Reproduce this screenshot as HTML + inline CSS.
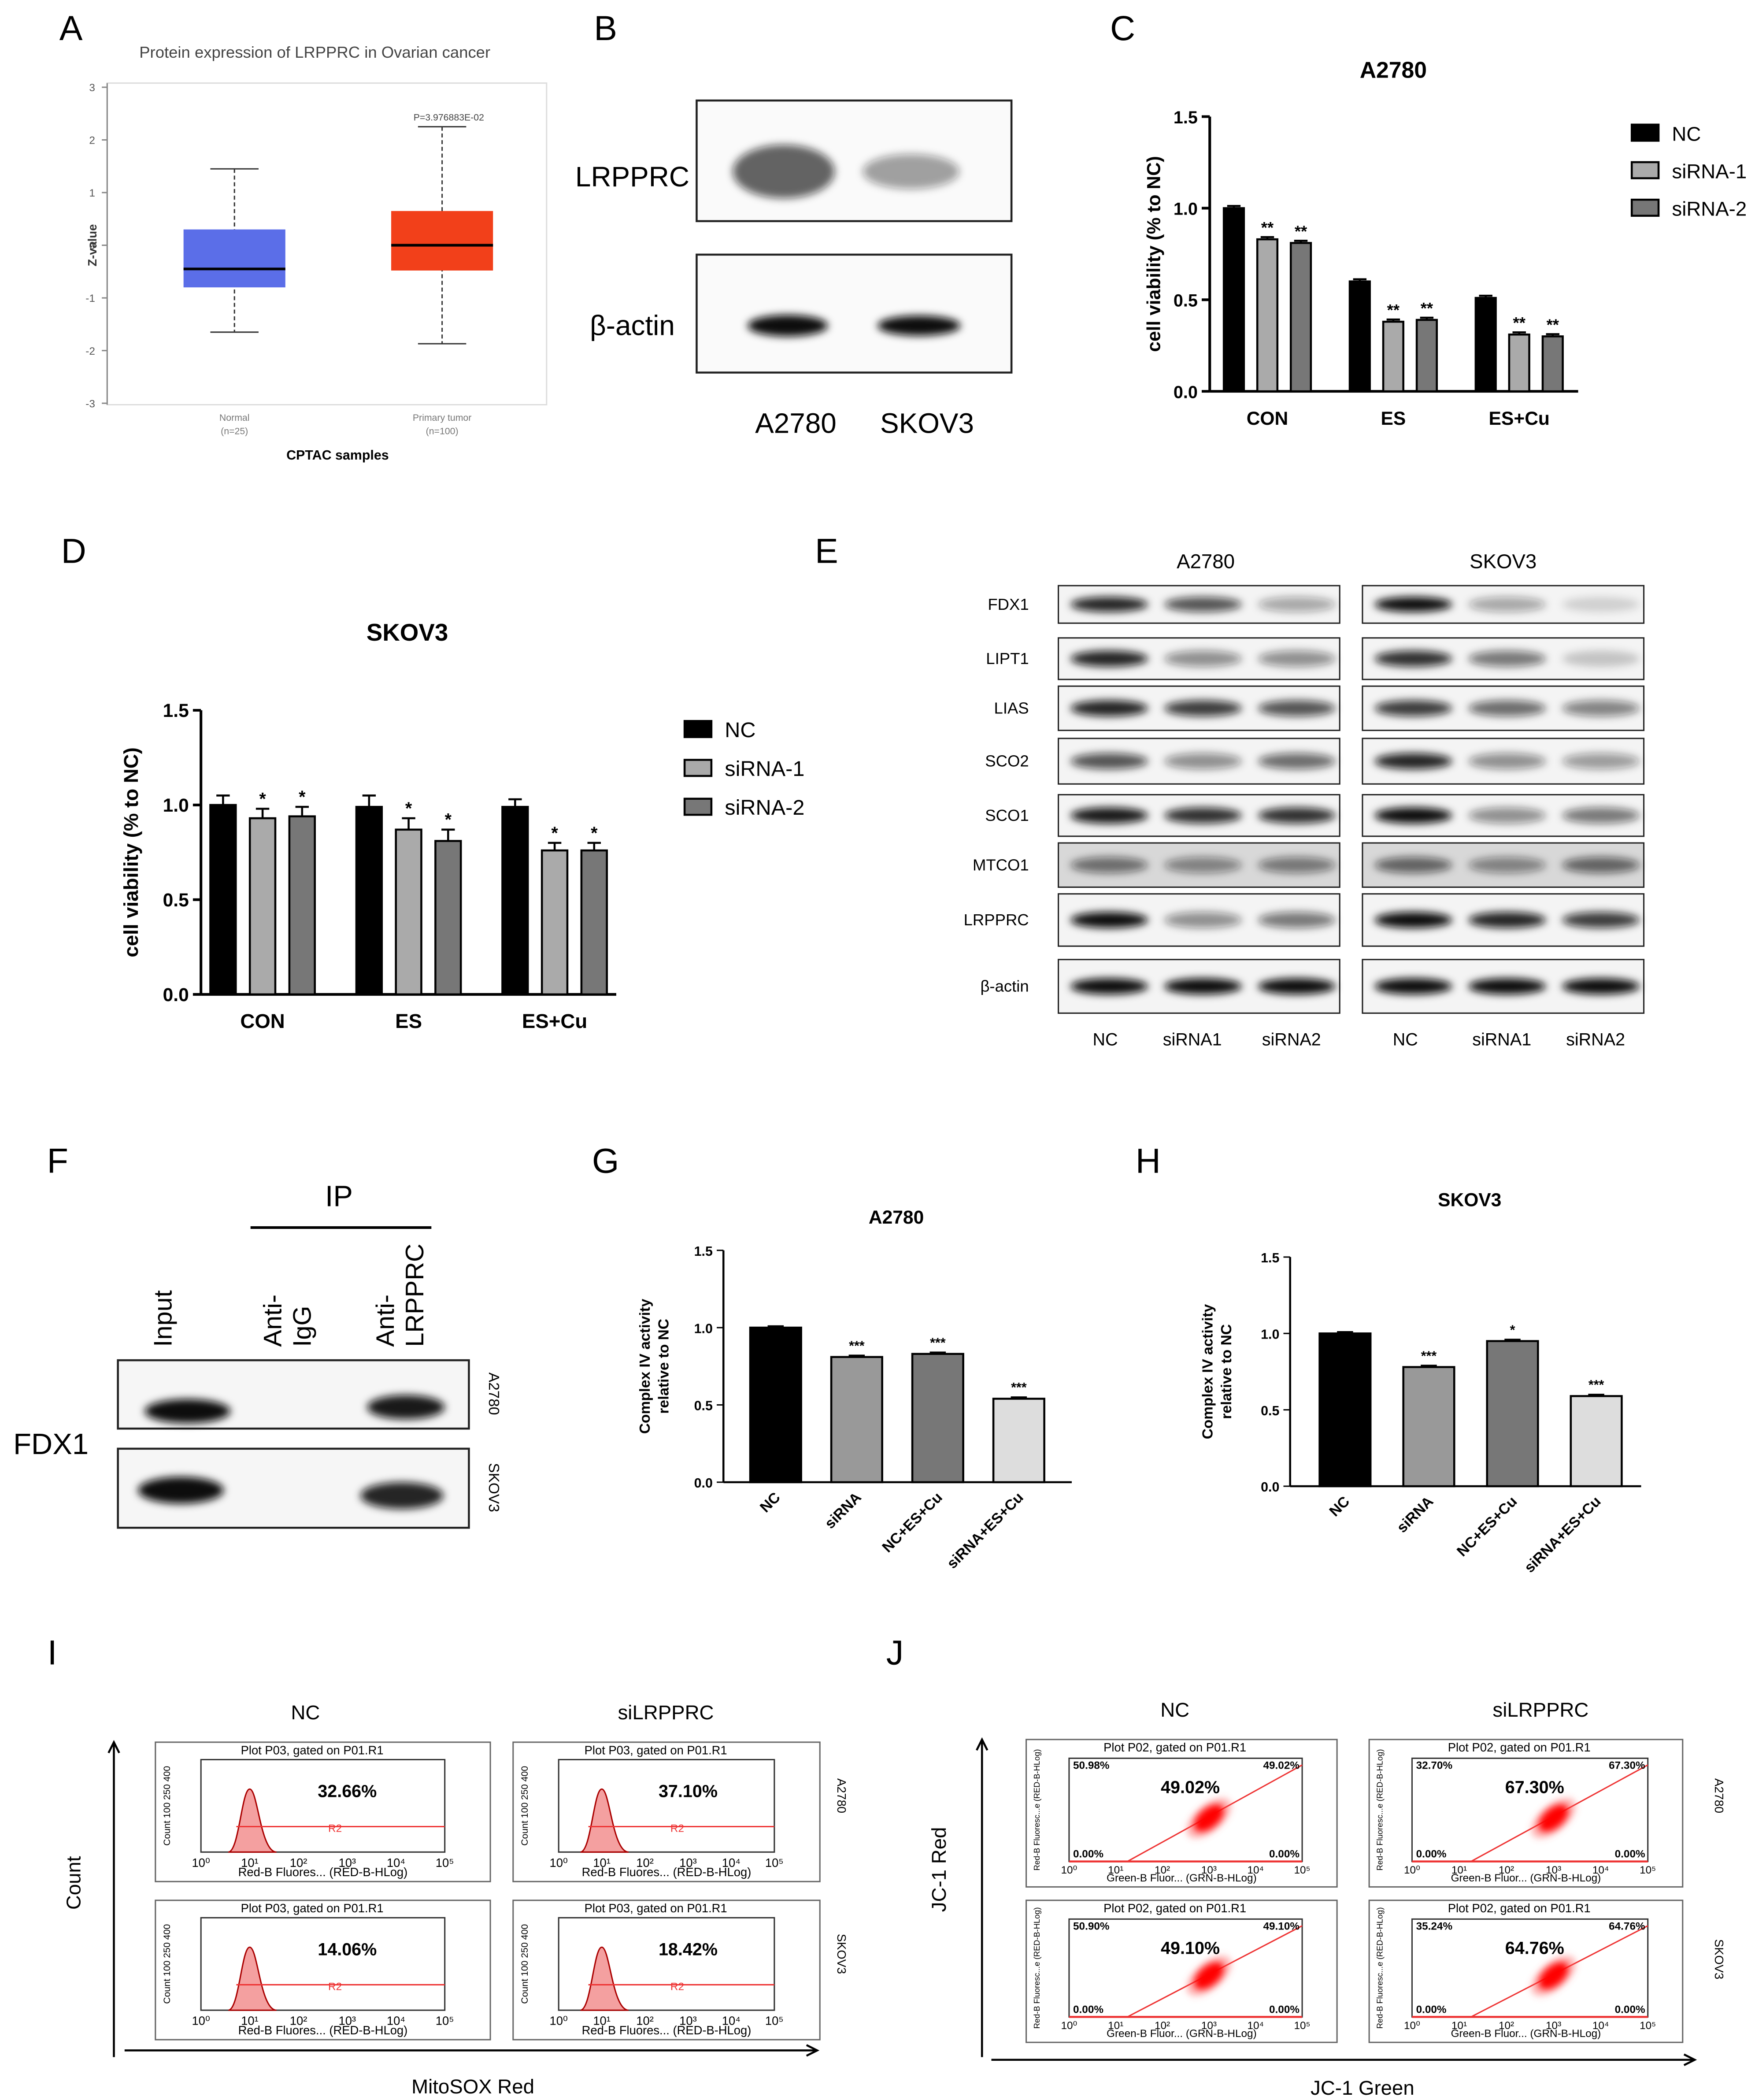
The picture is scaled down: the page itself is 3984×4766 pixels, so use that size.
<!DOCTYPE html>
<html><head><meta charset="utf-8"><style>
html,body{margin:0;padding:0;background:#fff}
svg{display:block}
text{font-family:"Liberation Sans",sans-serif}
</style></head><body>
<svg id="fig" xmlns="http://www.w3.org/2000/svg" width="3984" height="4766" viewBox="0 0 1310 1567" preserveAspectRatio="none">
<defs>
<filter id="blur3" x="-50%" y="-100%" width="200%" height="300%"><feGaussianBlur stdDeviation="3"/></filter>
<filter id="blur1" x="-50%" y="-50%" width="200%" height="200%"><feGaussianBlur stdDeviation="2.5"/></filter>
</defs>
<rect x="0" y="0" width="1310" height="1567" fill="#fff"/>
</svg>
<script>
// ---------- data ----------
const aCategories = ["Normal","Primary tumor"];
const aQ1 = [-0.8,-0.48], aQ3 = [0.3,0.65], aMed = [-0.45,0.0], aMin = [-1.65,-1.87], aMax = [1.45,2.25];
const aTicks = [3,2,1,0,-1,-2,-3];

const cCategories = ["CON","ES","ES+Cu"];
const cSeries = ["NC","siRNA-1","siRNA-2"];
const cNC = [1.0,0.6,0.51];
const cSi1 = [0.83,0.38,0.31];
const cSi2 = [0.81,0.39,0.30];
const cTicks = [0,0.5,1.0,1.5];

const dCategories = ["CON","ES","ES+Cu"];
const dNC = [1.0,0.99,0.99];
const dSi1 = [0.93,0.87,0.76];
const dSi2 = [0.94,0.81,0.76];
const dErr = [0.05,0.06,0.04];
const dTicks = [0,0.5,1.0,1.5];

const gCategories = ["NC","siRNA","NC+ES+Cu","siRNA+ES+Cu"];
const gValues = [1.0,0.81,0.83,0.54];
const gStars = ["","***","***","***"];
const hCategories = ["NC","siRNA","NC+ES+Cu","siRNA+ES+Cu"];
const hValues = [1.0,0.78,0.95,0.59];
const hStars = ["","***","*","***"];
const gTicks = [0,0.5,1.0,1.5];

const iPercents = ["32.66%","37.10%","14.06%","18.42%"];
const jPercents = ["49.02%","67.30%","49.10%","64.76%"];
const jUL = ["50.98%","32.70%","50.90%","35.24%"];

// ---------- helpers ----------
const S = document.getElementById('fig');
const NS = "http://www.w3.org/2000/svg";
function add(p, tag, a, txt){const e=document.createElementNS(NS,tag);for(const k in a)e.setAttribute(k,a[k]);if(txt!==undefined)e.textContent=txt;p.appendChild(e);return e;}
function grp(name){const g=add(S,'g',{});return g;}
function label(p,x,y,t,size,extra){const e=add(p,'text',Object.assign({x:x,y:y,'font-size':size,'text-anchor':'middle',fill:'#000'},extra||{}),t);return e;}

// ---------- panel letters ----------
const letters=[["A",53,30],["B",452,30],["C",838,30],["D",55,420],["E",617,420],["F",43,875],["G",452,875],["H",857,875],["I",39,1242],["J",668,1242]];
const gl=grp('panel-letters');
letters.forEach(l=>{const t=label(gl,l[1],l[2],l[0],26);

});

// ---------- Panel A boxplot ----------
(function(){
const g=grp('panel-a-boxplot');
const yA=v=>183-39.3*v;
label(g,235,43,"Protein expression of LRPPRC in Ovarian cancer",12,{fill:'#444'});
add(g,'rect',{x:80,y:62,width:328,height:240,fill:'none',stroke:'#ddd'});
add(g,'line',{x1:80,y1:62,x2:80,y2:302,stroke:'#888'});
aTicks.forEach(t=>{add(g,'line',{x1:76,x2:80,y1:yA(t),y2:yA(t),stroke:'#888'});
const tt=label(g,71,yA(t)+3,String(t),8,{'text-anchor':'end',fill:'#555'});

});
label(g,72,183,"Z-value",9,{transform:'rotate(-90 72 183)',fill:'#333','font-weight':'bold'});
const cx=[175,330], col=["#5b6ee8","#f2401a"];
aCategories.forEach((c,i)=>{
 const bg=add(g,'g',{});
 
 
 add(bg,'line',{x1:cx[i],x2:cx[i],y1:yA(aMax[i]),y2:yA(aMin[i]),stroke:'#333','stroke-dasharray':'3,2'});
 add(bg,'line',{x1:cx[i]-18,x2:cx[i]+18,y1:yA(aMax[i]),y2:yA(aMax[i]),stroke:'#333'});
 add(bg,'line',{x1:cx[i]-18,x2:cx[i]+18,y1:yA(aMin[i]),y2:yA(aMin[i]),stroke:'#333'});
 add(bg,'rect',{x:cx[i]-38,y:yA(aQ3[i]),width:76,height:yA(aQ1[i])-yA(aQ3[i]),fill:col[i]});
 add(bg,'line',{x1:cx[i]-38,x2:cx[i]+38,y1:yA(aMed[i]),y2:yA(aMed[i]),stroke:'#000','stroke-width':2});
 label(bg,cx[i],314,c,7,{fill:'#777'});
 label(bg,cx[i],324,i?"(n=100)":"(n=25)",7,{fill:'#777'});
});
label(g,335,90,"P=3.976883E-02",7,{fill:'#444'});
label(g,252,343,"CPTAC samples",10,{'font-weight':'bold'});
})();

// ---------- blots ----------
function band(p,cx,cy,w,h,op){add(p,'ellipse',{cx:cx,cy:cy,rx:w/2,ry:h/2,fill:'#111','fill-opacity':op,filter:'url(#blur3)'});}
(function(){
const g=grp('panel-b-western-blot');
add(g,'rect',{x:520,y:75,width:235,height:90,fill:'#fafafa',stroke:'#222','stroke-width':1.5});
add(g,'rect',{x:520,y:190,width:235,height:88,fill:'#fafafa',stroke:'#222','stroke-width':1.5});
band(g,585,128,76,40,0.65);band(g,680,128,72,26,0.4);
band(g,588,243,60,16,1);band(g,686,243,62,15,1);
label(g,472,139,"LRPPRC",21,{});
label(g,472,250,"β-actin",21,{});
label(g,594,323,"A2780",21,{});
label(g,692,323,"SKOV3",21,{});
})();

(function(){
const g=grp('panel-e-western-blots');
label(g,900,424,"A2780",15,{});label(g,1122,424,"SKOV3",15,{});
const rows=[["FDX1",437,465],["LIPT1",476,507],["LIAS",512,545],["SCO2",551,585],["SCO1",593,624],["MTCO1",629,662],["LRPPRC",667,706],["β-actin",716,756]];
const intensL=[[0.9,0.7,0.35],[0.9,0.45,0.45],[0.9,0.8,0.7],[0.7,0.45,0.6],[0.95,0.85,0.85],[0.55,0.45,0.5],[1,0.45,0.55],[1,1,1]];
const intensR=[[1,0.35,0.15],[0.85,0.55,0.2],[0.8,0.6,0.5],[0.9,0.45,0.4],[1,0.45,0.55],[0.6,0.45,0.6],[1,0.9,0.8],[1,1,1]];
rows.forEach((r,i)=>{
 const t=label(g,768,r[1]+(r[2]-r[1])/2+4,r[0],12,{'text-anchor':'end'});
 
 
 [[790,intensL[i]],[1017,intensR[i]]].forEach(([x0,ints])=>{
  add(g,'rect',{x:x0,y:r[1],width:210,height:r[2]-r[1],fill:i==5?'#d8d8d8':'#f4f4f4',stroke:'#222'});
  ints.forEach((v,k)=>band(g,x0+38+k*70,(r[1]+r[2])/2,58,Math.min(12,(r[2]-r[1])*0.4),v));
 });
});
[["NC",825],["siRNA1",890],["siRNA2",964],["NC",1049],["siRNA1",1121],["siRNA2",1191]].forEach(l=>{
 const t=label(g,l[1],780,l[0],13,{});
 
 });
})();

(function(){
const g=grp('panel-f-co-ip');
label(g,253,900,"IP",22,{});
add(g,'line',{x1:187,x2:322,y1:916,y2:916,stroke:'#000','stroke-width':2});
label(g,128,1005,"Input",19,{'text-anchor':'start',transform:'rotate(-90 128 1005)'});
label(g,210,1005,"Anti-",19,{'text-anchor':'start',transform:'rotate(-90 210 1005)'});
label(g,232,1005,"IgG",19,{'text-anchor':'start',transform:'rotate(-90 232 1005)'});
label(g,294,1005,"Anti-",19,{'text-anchor':'start',transform:'rotate(-90 294 1005)'});
label(g,316,1005,"LRPPRC",19,{'text-anchor':'start',transform:'rotate(-90 316 1005)'});
add(g,'rect',{x:88,y:1015,width:262,height:51,fill:'#f6f6f6',stroke:'#222','stroke-width':1.5});
add(g,'rect',{x:88,y:1081,width:262,height:59,fill:'#f6f6f6',stroke:'#222','stroke-width':1.5});
band(g,140,1053,64,18,1);band(g,303,1050,58,18,0.95);
band(g,135,1112,64,20,1);band(g,300,1116,62,20,0.9);
label(g,38,1085,"FDX1",22,{});
label(g,365,1040,"A2780",11,{transform:'rotate(90 365 1040)'});
label(g,365,1110,"SKOV3",11,{transform:'rotate(90 365 1110)'});
})();

// ---------- grouped bar charts ----------
function groupedChart(name,opt,cats,series,stars,err){
 const g=grp(name);
 const y=v=>opt.y0-(opt.y0-opt.y15)*v/1.5;
 label(g,opt.titleX,opt.titleY,opt.title,opt.titleSize,{'font-weight':'bold'});
 add(g,'line',{x1:opt.x0,x2:opt.x0,y1:opt.y15,y2:opt.y0,stroke:'#000','stroke-width':2});
 add(g,'line',{x1:opt.x0,x2:opt.x1,y1:opt.y0,y2:opt.y0,stroke:'#000','stroke-width':2});
 opt.ticks.forEach(t=>{add(g,'line',{x1:opt.x0-6,x2:opt.x0,y1:y(t),y2:y(t),stroke:'#000','stroke-width':2});
  const tt=label(g,opt.x0-9,y(t)+5,t.toFixed(1),opt.tickSize,{'text-anchor':'end','font-weight':'bold'});
  
  });
 label(g,opt.ylabX,(opt.y0+opt.y15)/2,"cell viability (% to NC)",opt.ylabSize,{'font-weight':'bold',transform:`rotate(-90 ${opt.ylabX} ${(opt.y0+opt.y15)/2})`});
 const colors=["#000","#aaa","#777"];
 cats.forEach((c,ci)=>{
  const cx=opt.gx0+ci*opt.gstep;
  series.forEach((vals,si)=>{
   const bx=cx+(si-1)*opt.off-opt.bw/2;
   const r=add(g,'rect',{x:bx,y:y(vals[ci]),width:opt.bw,height:opt.y0-y(vals[ci]),fill:colors[si],stroke:'#000','stroke-width':1.5});
   
   
   const e=err?err[ci]:0.012;
   add(g,'line',{x1:bx+opt.bw/2,x2:bx+opt.bw/2,y1:y(vals[ci]+e),y2:y(vals[ci]),stroke:'#000','stroke-width':1.5});
   add(g,'line',{x1:bx+opt.bw/2-5,x2:bx+opt.bw/2+5,y1:y(vals[ci]+e),y2:y(vals[ci]+e),stroke:'#000','stroke-width':1.5});
   if(si>0) label(g,bx+opt.bw/2,y(vals[ci]+e)-3,stars,opt.tickSize-1,{'font-weight':'bold'});
  });
  const cl=label(g,cx,opt.y0+25,c,opt.catSize,{'font-weight':'bold'});
  
  
 });
 cSeries.forEach((s,i)=>{
  const lg=add(g,'g',{});
  
  
  add(lg,'rect',{x:opt.lx,y:opt.ly+i*opt.lstep-7,width:20,height:12,fill:colors[i],stroke:'#000','stroke-width':1.5});
  label(lg,opt.lx+30,opt.ly+i*opt.lstep+5,s,opt.legSize,{'text-anchor':'start'});
 });
}
groupedChart('panel-c-bar-chart',{y0:292,y15:87,x0:903,x1:1178,gx0:946,gstep:94,off:25,bw:15,ticks:cTicks,tickSize:13,title:"A2780",titleX:1040,titleY:58,titleSize:17,ylabX:866,ylabSize:14,catSize:14,lx:1218,ly:100,lstep:28,legSize:15},cCategories,[cNC,cSi1,cSi2],"**",null);
groupedChart('panel-d-bar-chart',{y0:742,y15:530,x0:150,x1:460,gx0:196,gstep:109,off:29.5,bw:19,ticks:dTicks,tickSize:14,title:"SKOV3",titleX:304,titleY:478,titleSize:18,ylabX:103,ylabSize:15,catSize:15,lx:511,ly:545,lstep:29,legSize:16},dCategories,[dNC,dSi1,dSi2],"*",dErr);

function complexChart(name,opt,cats,vals,stars){
 const g=grp(name);
 const y=v=>opt.y0-(opt.y0-opt.y15)*v/1.5;
 label(g,opt.titleX,opt.titleY,opt.title,14,{'font-weight':'bold'});
 add(g,'line',{x1:opt.x0,x2:opt.x0,y1:opt.y15,y2:opt.y0,stroke:'#000','stroke-width':1.5});
 add(g,'line',{x1:opt.x0,x2:opt.x1,y1:opt.y0,y2:opt.y0,stroke:'#000','stroke-width':1.5});
 gTicks.forEach(t=>{add(g,'line',{x1:opt.x0-5,x2:opt.x0,y1:y(t),y2:y(t),stroke:'#000'});
  const tt=label(g,opt.x0-8,y(t)+4,t.toFixed(1),10,{'text-anchor':'end','font-weight':'bold'});
  
  });
 const mid=(opt.y0+opt.y15)/2;
 label(g,opt.ylabX,mid,"Complex IV activity",11,{'font-weight':'bold',transform:`rotate(-90 ${opt.ylabX} ${mid})`});
 label(g,opt.ylabX+14,mid,"relative to NC",11,{'font-weight':'bold',transform:`rotate(-90 ${opt.ylabX+14} ${mid})`});
 const colors=["#000","#999","#777","#ddd"];
 cats.forEach((c,i)=>{
  const cx=opt.bx0+i*opt.step;
  const r=add(g,'rect',{x:cx-19,y:y(vals[i]),width:38,height:opt.y0-y(vals[i]),fill:colors[i],stroke:'#000','stroke-width':1.5});
  
  
  add(g,'line',{x1:cx-6,x2:cx+6,y1:y(vals[i])-1,y2:y(vals[i])-1,stroke:'#000','stroke-width':1.5});
  if(stars[i]) label(g,cx,y(vals[i])-5,stars[i],10,{'font-weight':'bold'});
  const cl=label(g,cx+4,opt.y0+12,c,11,{'font-weight':'bold','text-anchor':'end',transform:`rotate(-45 ${cx+4} ${opt.y0+12})`});
  
  
 });
}
complexChart('panel-g-bar-chart',{y0:1106,y15:933,x0:540,x1:800,bx0:579,step:60.5,title:"A2780",titleX:669,titleY:913,ylabX:485},gCategories,gValues,gStars);
complexChart('panel-h-bar-chart',{y0:1109,y15:938,x0:963,x1:1225,bx0:1004,step:62.5,title:"SKOV3",titleX:1097,titleY:900,ylabX:905},hCategories,hValues,hStars);

// ---------- flow cytometry ----------
function arrowAxes(g,vx,vy1,vy2,hx1,hx2,hy){
 add(g,'line',{x1:vx,x2:vx,y1:vy1,y2:vy2,stroke:'#000','stroke-width':1.5});
 add(g,'path',{d:`M${vx-4} ${vy2+8} L${vx} ${vy2} L${vx+4} ${vy2+8}`,fill:'none',stroke:'#000','stroke-width':1.5});
 add(g,'line',{x1:hx1,x2:hx2,y1:hy,y2:hy,stroke:'#000','stroke-width':1.5});
 add(g,'path',{d:`M${hx2-8} ${hy-4} L${hx2} ${hy} L${hx2-8} ${hy+4}`,fill:'none',stroke:'#000','stroke-width':1.5});
}
(function(){
const g=grp('panel-i-mitosox-flow');
label(g,228,1283,"NC",15,{});label(g,497,1283,"siLRPPRC",15,{});
arrowAxes(g,85,1535,1300,93,610,1530);
label(g,60,1405,"Count",15,{transform:'rotate(-90 60 1405)'});
label(g,353,1562,"MitoSOX Red",15,{});
label(g,625,1340,"A2780",9,{transform:'rotate(90 625 1340)'});
label(g,625,1458,"SKOV3",9,{transform:'rotate(90 625 1458)'});
const boxes=[[116,1300,250],[383,1300,229],[116,1418,250],[383,1418,229]];
boxes.forEach((b,i)=>{
 const pg=add(g,'g',{});
 
 
 const [x,y,w]=b;
 add(pg,'rect',{x:x,y:y,width:w,height:104,fill:'#fff',stroke:'#666'});
 const px=x+34,pw=w-68,py=y+13,ph=69;
 add(pg,'rect',{x:px,y:py,width:pw,height:ph,fill:'none',stroke:'#333'});
 label(pg,x+w/2-8,y+9,"Plot P03, gated on P01.R1",9,{'font-family':'Liberation Mono'});
 const hx=px+pw*0.2;
 add(pg,'path',{d:`M${hx-16} ${py+ph} C${hx-8} ${py+ph} ${hx-6} ${py+22} ${hx} ${py+22} C${hx+6} ${py+22} ${hx+8} ${py+ph} ${hx+20} ${py+ph} Z`,fill:'#f4a0a0',stroke:'#a00'});
 add(pg,'line',{x1:hx-10,x2:px+pw,y1:py+50,y2:py+50,stroke:'#e33'});
 label(pg,px+pw*0.55,py+54,"R2",8,{fill:'#e33'});
 label(pg,px+pw*0.6,py+28,iPercents[i],13,{'font-weight':'bold'});
 label(pg,x+11,py+ph/2,"Count 100 250 400",7,{transform:`rotate(-90 ${x+11} ${py+ph/2})`});
 ["10⁰","10¹","10²","10³","10⁴","10⁵"].forEach((t,k)=>label(pg,px+k*pw/5,py+ph+11,t,9,{}));
 label(pg,x+w/2,y+100,"Red-B Fluores... (RED-B-HLog)",9,{'font-family':'Liberation Mono'});
});
})();
(function(){
const g=grp('panel-j-jc1-flow');
label(g,877,1281,"NC",15,{});label(g,1150,1281,"siLRPPRC",15,{});
arrowAxes(g,733,1535,1298,740,1265,1537);
label(g,706,1395,"JC-1 Red",15,{transform:'rotate(-90 706 1395)'});
label(g,1017,1563,"JC-1 Green",15,{});
label(g,1280,1340,"A2780",9,{transform:'rotate(90 1280 1340)'});
label(g,1280,1462,"SKOV3",9,{transform:'rotate(90 1280 1462)'});
const boxes=[[766,1298,232,110],[1022,1298,234,110],[766,1418,232,106],[1022,1418,234,106]];
boxes.forEach((b,i)=>{
 const pg=add(g,'g',{});
 
 
 const [x,y,w,h]=b;
 add(pg,'rect',{x:x,y:y,width:w,height:h,fill:'#fff',stroke:'#666'});
 const px=x+32,pw=w-58,py=y+14,ph=h-33;
 add(pg,'rect',{x:px,y:py,width:pw,height:ph,fill:'none',stroke:'#333'});
 label(pg,x+w/2-5,y+9,"Plot P02, gated on P01.R1",9,{'font-family':'Liberation Mono'});
 add(pg,'line',{x1:px+pw*0.25,y1:py+ph,x2:px+pw,y2:py+5,stroke:'#e33'});
 add(pg,'line',{x1:px,y1:py+ph,x2:px+pw,y2:py+ph,stroke:'#e33','stroke-width':1.5});
 add(pg,'ellipse',{cx:px+pw*0.6,cy:py+ph*0.58,rx:20,ry:10,fill:'#f55','fill-opacity':0.45,transform:`rotate(-40 ${px+pw*0.6} ${py+ph*0.58})`,filter:'url(#blur1)'});
 add(pg,'ellipse',{cx:px+pw*0.6,cy:py+ph*0.58,rx:13,ry:7,fill:'#f00',transform:`rotate(-40 ${px+pw*0.6} ${py+ph*0.58})`,filter:'url(#blur1)'});
 label(pg,px+pw*0.52,py+26,jPercents[i],13,{'font-weight':'bold'});
 label(pg,px+3,py+8,jUL[i],8,{'font-weight':'bold','text-anchor':'start'});
 label(pg,px+pw-2,py+8,jPercents[i],8,{'font-weight':'bold','text-anchor':'end'});
 label(pg,px+3,py+ph-3,"0.00%",8,{'font-weight':'bold','text-anchor':'start'});
 label(pg,px+pw-2,py+ph-3,"0.00%",8,{'font-weight':'bold','text-anchor':'end'});
 label(pg,x+10,py+ph/2,"Red-B Fluoresc...e (RED-B-HLog)",6,{transform:`rotate(-90 ${x+10} ${py+ph/2})`});
 ["10⁰","10¹","10²","10³","10⁴","10⁵"].forEach((t,k)=>label(pg,px+k*pw/5,py+ph+9,t,8,{}));
 label(pg,x+w/2,y+h-4,"Green-B Fluor... (GRN-B-HLog)",8,{'font-family':'Liberation Mono'});
});
})();
</script>
</body></html>
